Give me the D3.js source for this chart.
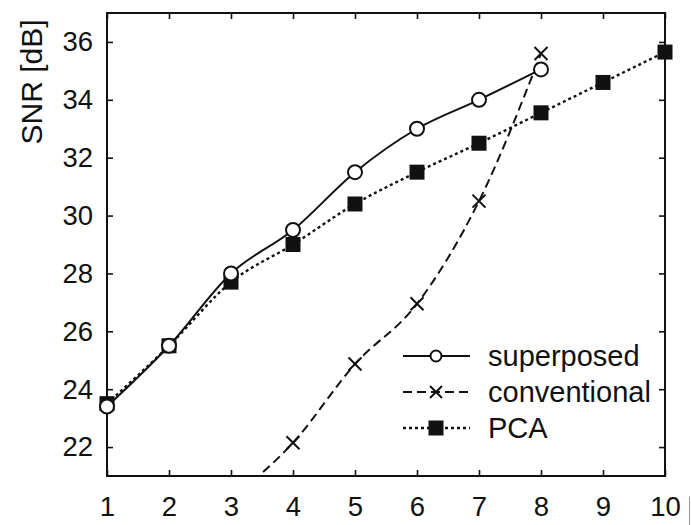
<!DOCTYPE html>
<html>
<head>
<meta charset="utf-8">
<script src="https://cdn.jsdelivr.net/npm/d3@7"></script>
<style>
  html, body { margin: 0; padding: 0; background: #fff; }
  svg { display: block; }
  text { font-family: "Liberation Sans", Arial, sans-serif; fill: #111; }
</style>
</head>
<body>
<svg id="chart" width="691" height="525"></svg>
<script>
// Number of components on the x axis
const xTicks = [1, 2, 3, 4, 5, 6, 7, 8, 9, 10];
const yTicks = [22, 24, 26, 28, 30, 32, 34, 36];

// SNR [dB] per method
const superposedX = [1, 2, 3, 4, 5, 6, 7, 8];
const superposedY = [23.4, 25.5, 28.0, 29.5, 31.5, 33.0, 34.0, 35.05];

const conventionalX = [3, 4, 5, 6, 7, 8];
const conventionalY = [20.2, 22.15, 24.87, 26.95, 30.5, 35.6];

const pcaX = [1, 2, 3, 4, 5, 6, 7, 8, 9, 10];
const pcaY = [23.5, 25.5, 27.7, 29.0, 30.4, 31.5, 32.5, 33.55, 34.6, 35.65];

const seriesNames = ["superposed", "conventional", "PCA"];

const svg = d3.select("#chart");
const plotL = 107, plotR = 665, plotT = 13, plotB = 476;

const x = d3.scaleLinear().domain([1, 10]).range([plotL, plotR]);
const y = d3.scaleLinear().domain([21, 37]).range([plotB, plotT]);

svg.append("defs").append("clipPath").attr("id", "plotClip")
  .append("rect").attr("x", plotL).attr("y", plotT)
  .attr("width", plotR - plotL).attr("height", plotB - plotT);

// Inward ticks on all four sides
const tl = 6;
const axisStyle = g => {
  g.select(".domain").remove();
  g.selectAll(".tick line").attr("stroke", "#111").attr("stroke-width", 1.6);
};
svg.append("g").attr("transform", `translate(0,${plotB})`)
  .call(d3.axisBottom(x).tickValues(xTicks).tickSize(-tl).tickPadding(20).tickFormat(d3.format("d")))
  .call(axisStyle)
  .call(g => g.selectAll("text").attr("font-size", 27.5).attr("dy", "0.71em"));
svg.append("g").attr("transform", `translate(0,${plotT})`)
  .call(d3.axisTop(x).tickValues(xTicks).tickSize(-tl).tickFormat(""))
  .call(axisStyle);
svg.append("g").attr("transform", `translate(${plotL},0)`)
  .call(d3.axisLeft(y).tickValues(yTicks).tickSize(-tl).tickPadding(14).tickFormat(d3.format("d")))
  .call(axisStyle)
  .call(g => g.selectAll("text").attr("font-size", 27.5));
svg.append("g").attr("transform", `translate(${plotR},0)`)
  .call(d3.axisRight(y).tickValues(yTicks).tickSize(-tl).tickFormat(""))
  .call(axisStyle);

// Frame
svg.append("rect").attr("x", plotL).attr("y", plotT)
  .attr("width", plotR - plotL).attr("height", plotB - plotT)
  .attr("fill", "none").attr("stroke", "#111").attr("stroke-width", 2);

// Y axis label
svg.append("text")
  .attr("transform", `translate(42,82) rotate(-90)`)
  .attr("text-anchor", "middle")
  .attr("font-size", 30)
  .text("SNR [dB]");

const line = d3.line().x(d => x(d[0])).y(d => y(d[1])).curve(d3.curveMonotoneX);
const zip = (a, b) => a.map((v, i) => [v, b[i]]);

const superposed = zip(superposedX, superposedY);
const conventional = zip(conventionalX, conventionalY);
const pca = zip(pcaX, pcaY);

const plot = svg.append("g").attr("clip-path", "url(#plotClip)");

plot.append("path").datum(pca).attr("d", line)
  .attr("fill", "none").attr("stroke", "#111").attr("stroke-width", 2.4)
  .attr("stroke-dasharray", "3,3");
plot.append("path").datum(conventional).attr("d", line)
  .attr("fill", "none").attr("stroke", "#111").attr("stroke-width", 2)
  .attr("stroke-dasharray", "9,5");
plot.append("path").datum(superposed).attr("d", line)
  .attr("fill", "none").attr("stroke", "#111").attr("stroke-width", 2);

// Markers
const sq = 15;
const drawSquare = (g, px, py) => g.append("rect")
  .attr("x", px - sq / 2).attr("y", py - sq / 2).attr("width", sq).attr("height", sq)
  .attr("fill", "#111");
const drawCircle = (g, px, py, r) => g.append("circle")
  .attr("cx", px).attr("cy", py).attr("r", r)
  .attr("fill", "#fff").attr("stroke", "#111").attr("stroke-width", 2);
const drawCross = (g, px, py, s) => g.append("path")
  .attr("d", `M${px - s},${py - s}L${px + s},${py + s}M${px - s},${py + s}L${px + s},${py - s}`)
  .attr("stroke", "#111").attr("stroke-width", 2).attr("fill", "none");

const markers = svg.append("g");
pca.forEach(d => drawSquare(markers, x(d[0]), y(d[1])));
superposed.forEach(d => drawCircle(markers, x(d[0]), y(d[1]), 7));
conventional.filter(d => d[1] >= 21).forEach(d => drawCross(markers, x(d[0]), y(d[1]), 6.5));

// Legend
const lg = svg.append("g");
const legendRows = [356, 392, 428];
const lx0 = 403, lx1 = 470, lm = 436, tx = 488;
const styles = [
  { dash: null, w: 2 },
  { dash: "9,5", w: 2 },
  { dash: "3,3", w: 2.4 }
];
seriesNames.forEach((name, i) => {
  const ly = legendRows[i];
  lg.append("line").attr("x1", lx0).attr("x2", lx1).attr("y1", ly).attr("y2", ly)
    .attr("stroke", "#111").attr("stroke-width", styles[i].w)
    .attr("stroke-dasharray", styles[i].dash);
  if (i === 0) drawCircle(lg, lm, ly, 5.5);
  if (i === 1) drawCross(lg, lm, ly, 6);
  if (i === 2) drawSquare(lg, lm, ly);
  lg.append("text").attr("x", tx).attr("y", ly).attr("dy", "0.35em")
    .attr("font-size", 29).text(name);
});

// Thin edge mark at the lower right corner of the page
svg.append("line").attr("x1", 689.5).attr("x2", 689.5).attr("y1", 497).attr("y2", 525)
  .attr("stroke", "#999").attr("stroke-width", 1);
</script>
</body>
</html>
